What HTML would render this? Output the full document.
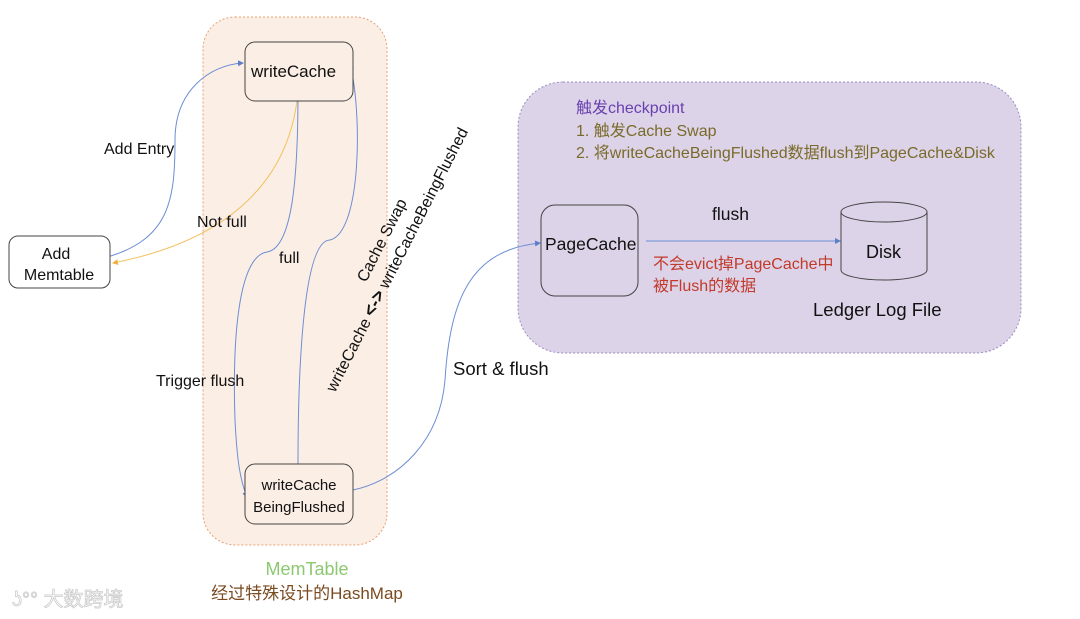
<!DOCTYPE html>
<html><head><meta charset="utf-8"><style>
html,body{margin:0;padding:0;background:#fff;}
svg{display:block;font-family:"Liberation Sans","Noto Sans CJK SC",sans-serif;}
</style></head><body>
<svg width="1080" height="619" viewBox="0 0 1080 619" xmlns="http://www.w3.org/2000/svg">
<defs>
<marker id="ab" markerWidth="6" markerHeight="6" refX="5" refY="3" orient="auto"><path d="M0,0 L6,3 L0,6z" fill="#5b7ec9"/></marker>
<marker id="ao" markerWidth="6" markerHeight="6" refX="5" refY="3" orient="auto"><path d="M0,0 L6,3 L0,6z" fill="#f0b040"/></marker>
</defs>
<rect x="203" y="17" width="184" height="528" rx="32" fill="#fbeee5" stroke="#e8a070" stroke-dasharray="2,2"/>
<rect x="518" y="82" width="503" height="271" rx="45" fill="#dcd3e8" stroke="#9a8cc0" stroke-dasharray="2,2"/>

<path d="M104,258 C170,240 175,200 175,140 C175,90 210,65 243,63" fill="none" stroke="#6d8ed3" stroke-width="1" marker-end="url(#ab)"/>
<path d="M298,92 C290,180 230,240 113,263" fill="none" stroke="#f3c060" stroke-width="1" marker-end="url(#ao)"/>
<path d="M298,92 C298,180 292,248 267,252 C240,256 232,330 235,420 C237,460 240,480 247,497" fill="none" stroke="#6d8ed3" stroke-width="1" marker-end="url(#ab)"/>
<path d="M298,464 C298,380 302,240 330,240 C362,232 362,110 350,64" fill="none" stroke="#6d8ed3" stroke-width="1" marker-end="url(#ab)"/>
<path d="M353,490 C400,480 440,440 445,380 C450,300 470,250 540,243" fill="none" stroke="#6d8ed3" stroke-width="1" marker-end="url(#ab)"/>
<path d="M646,241 L840,241" fill="none" stroke="#6d8ed3" stroke-width="1" marker-end="url(#ab)"/>

<rect x="245" y="42" width="108" height="59" rx="10" fill="#fbeee5" stroke="#444"/>
<text x="251" y="77" font-size="17" fill="#111">writeCache</text>
<rect x="245" y="464" width="108" height="60" rx="10" fill="#fbeee5" stroke="#444"/>
<text x="299" y="490" font-size="15" fill="#111" text-anchor="middle">writeCache</text>
<text x="299" y="512" font-size="15" fill="#111" text-anchor="middle">BeingFlushed</text>
<rect x="9" y="236" width="101" height="52" rx="9" fill="#fff" stroke="#444"/>
<text x="56" y="259" font-size="16" fill="#111" text-anchor="middle">Add</text>
<text x="59" y="280" font-size="16" fill="#111" text-anchor="middle">Memtable</text>
<rect x="541" y="205" width="97" height="91" rx="14" fill="#dcd3e8" stroke="#444"/>
<text x="545" y="250" font-size="17.5" fill="#111">PageCache</text>
<path d="M841,212 L841,270 A43,10 0 0 0 927,270 L927,212" fill="#dcd3e8" stroke="#444"/>
<ellipse cx="884" cy="212" rx="43" ry="10" fill="#dcd3e8" stroke="#444"/>
<text x="866" y="258" font-size="18" fill="#111">Disk</text>

<text x="104" y="154" font-size="16" fill="#111">Add Entry</text>
<text x="197" y="227" font-size="16" fill="#111">Not full</text>
<text x="279" y="263" font-size="16" fill="#111">full</text>
<text x="156" y="386" font-size="16" fill="#111">Trigger flush</text>
<text x="453" y="375" font-size="18.5" fill="#111">Sort &amp; flush</text>
<text transform="translate(366,283) rotate(-63)" font-size="16" fill="#111">Cache Swap</text>
<text transform="translate(335,393) rotate(-63)" font-size="16" fill="#111">writeCache <tspan font-weight="bold" font-size="18">&lt;-&gt;</tspan> writeCacheBeingFlushed</text>

<text x="576" y="113" font-size="16" fill="#6a3fb0">触发checkpoint</text>
<text x="576" y="136" font-size="16" fill="#7a6a2a">1. 触发Cache Swap</text>
<text x="576" y="158" font-size="16" fill="#7a6a2a">2. 将writeCacheBeingFlushed数据flush到PageCache&amp;Disk</text>
<text x="712" y="220" font-size="17.5" fill="#111">flush</text>
<text x="653" y="269" font-size="16" fill="#c23a2a">不会evict掉PageCache中</text>
<text x="653" y="291" font-size="16" fill="#c23a2a">被Flush的数据</text>
<text x="813" y="316" font-size="18.5" fill="#111">Ledger Log File</text>

<text x="307" y="575" font-size="18" fill="#8cc870" text-anchor="middle">MemTable</text>
<text x="307" y="599" font-size="17" fill="#7a4a20" text-anchor="middle">经过特殊设计的HashMap</text>
<text x="12" y="606" font-size="20" fill="#fff" stroke="#ccc" stroke-width="0.8">ʖ°° 大数跨境</text>
</svg>
</body></html>
